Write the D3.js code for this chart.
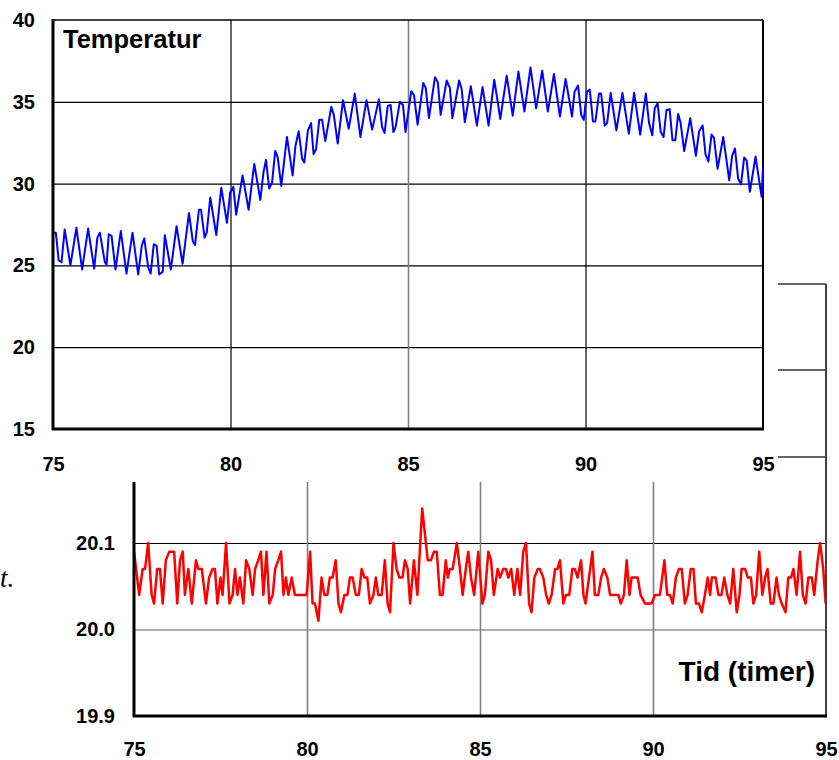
<!DOCTYPE html>
<html>
<head>
<meta charset="utf-8">
<script src="https://cdn.jsdelivr.net/npm/d3@7"></script>
<style>
  body { margin: 0; background: #fff; }
  svg { display: block; }
</style>
</head>
<body>
<svg width="839" height="760"></svg>
<script>
// Temperatur (øverst), aflæst som [tid, grader]
var tempData = [
  [75.00,27.0],[75.08,27.0],[75.16,25.3],[75.24,25.2],[75.33,27.2],[75.49,25.0],[75.66,27.3],[75.82,24.75],
  [75.99,27.25],[76.16,24.8],[76.25,26.7],[76.32,27.0],[76.46,25.2],[76.51,25.05],[76.57,26.9],[76.65,26.8],
  [76.76,24.75],[76.91,27.1],[77.07,24.5],[77.24,27.0],[77.40,24.45],[77.50,26.2],[77.57,26.65],[77.68,24.9],
  [77.75,24.5],[77.84,26.3],[77.92,26.2],[77.99,24.45],[78.09,24.6],[78.15,26.85],[78.32,24.75],[78.48,27.4],
  [78.65,25.1],[78.83,28.2],[78.94,26.45],[79.00,26.25],[79.11,28.4],[79.17,28.4],[79.27,26.7],[79.33,27.0],
  [79.43,29.15],[79.60,26.85],[79.74,29.75],[79.90,27.6],[79.99,29.45],[80.08,29.8],[80.16,28.1],[80.34,30.5],
  [80.51,28.4],[80.67,31.2],[80.84,29.0],[80.93,30.7],[81.00,31.45],[81.09,29.7],[81.17,30.05],[81.26,32.0],
  [81.33,31.6],[81.43,29.85],[81.59,32.85],[81.75,30.5],[81.83,32.3],[81.92,33.2],[82.02,31.5],[82.08,31.3],
  [82.18,33.25],[82.27,33.7],[82.34,31.8],[82.41,32.1],[82.50,33.9],[82.58,33.9],[82.67,32.6],[82.84,34.7],
  [82.91,34.2],[83.02,32.45],[83.17,35.1],[83.33,33.35],[83.50,35.5],[83.66,32.85],[83.83,35.1],[83.99,33.3],
  [84.18,35.15],[84.27,33.45],[84.34,33.1],[84.43,34.75],[84.51,34.8],[84.59,33.15],[84.65,33.45],[84.77,35.0],
  [84.86,34.8],[84.93,33.15],[85.09,35.65],[85.17,35.4],[85.27,33.6],[85.43,36.15],[85.50,35.85],[85.59,34.0],
  [85.76,36.5],[85.84,36.2],[85.92,34.2],[86.09,36.3],[86.18,35.85],[86.25,34.0],[86.44,36.3],[86.51,35.8],
  [86.60,33.75],[86.77,35.95],[86.94,33.55],[87.10,35.9],[87.27,33.55],[87.43,36.35],[87.60,33.95],[87.78,36.6],
  [87.95,34.15],[88.11,36.85],[88.28,34.4],[88.45,37.1],[88.61,34.6],[88.78,36.9],[88.94,34.4],[89.11,36.7],
  [89.28,34.1],[89.44,36.4],[89.62,34.1],[89.69,35.6],[89.79,36.0],[89.88,34.2],[89.95,33.9],[90.04,35.6],
  [90.12,35.75],[90.21,33.8],[90.28,33.8],[90.38,35.5],[90.44,35.5],[90.54,33.55],[90.61,33.7],[90.71,35.55],
  [90.87,33.25],[91.04,35.55],[91.22,33.05],[91.37,35.55],[91.54,33.0],[91.70,35.5],[91.79,33.7],[91.88,32.95],
  [91.95,34.6],[92.03,34.9],[92.12,33.15],[92.20,32.85],[92.28,34.5],[92.37,34.55],[92.45,32.65],[92.53,32.65],
  [92.61,34.25],[92.68,33.7],[92.78,31.99],[92.95,34.0],[93.11,31.7],[93.20,33.2],[93.30,33.55],[93.38,31.8],
  [93.46,31.35],[93.55,33.0],[93.62,32.8],[93.72,30.9],[93.88,32.85],[94.05,30.2],[94.13,31.7],[94.21,32.15],
  [94.30,30.3],[94.38,29.95],[94.47,31.6],[94.54,31.4],[94.63,29.5],[94.79,31.65],[94.96,29.2],[95.00,30.95]
];

// nederste kurve, aflæst som [tid, værdi]
var lowData = [
  [75.00,20.09],[75.15,20.04],[75.25,20.07],[75.32,20.07],[75.41,20.10],[75.51,20.04],[75.58,20.03],[75.67,20.07],
  [75.75,20.07],[75.83,20.03],[75.92,20.08],[76.02,20.09],[76.16,20.09],[76.25,20.03],[76.33,20.08],[76.41,20.09],
  [76.47,20.04],[76.57,20.07],[76.67,20.03],[76.79,20.08],[76.86,20.07],[76.96,20.07],[77.08,20.03],[77.17,20.06],
  [77.27,20.07],[77.34,20.07],[77.41,20.03],[77.50,20.06],[77.56,20.04],[77.66,20.10],[77.76,20.03],[77.85,20.04],
  [77.92,20.07],[77.99,20.04],[78.06,20.06],[78.16,20.03],[78.24,20.08],[78.33,20.07],[78.43,20.04],[78.50,20.07],
  [78.59,20.08],[78.67,20.09],[78.74,20.04],[78.83,20.09],[78.91,20.03],[79.01,20.04],[79.08,20.07],[79.17,20.08],
  [79.25,20.09],[79.32,20.04],[79.39,20.06],[79.46,20.04],[79.56,20.06],[79.65,20.04],[79.99,20.04],[80.09,20.09],
  [80.16,20.03],[80.23,20.03],[80.33,20.01],[80.42,20.06],[80.50,20.04],[80.59,20.04],[80.66,20.06],[80.74,20.06],
  [80.83,20.08],[80.91,20.03],[80.98,20.02],[81.08,20.04],[81.17,20.04],[81.24,20.06],[81.32,20.06],[81.41,20.04],
  [81.50,20.04],[81.58,20.07],[81.66,20.06],[81.74,20.06],[81.82,20.03],[81.92,20.04],[81.99,20.06],[82.06,20.04],
  [82.16,20.04],[82.25,20.08],[82.33,20.03],[82.40,20.02],[82.50,20.10],[82.59,20.07],[82.67,20.06],[82.76,20.06],
  [82.83,20.08],[82.91,20.07],[82.98,20.03],[83.09,20.08],[83.19,20.04],[83.33,20.14],[83.49,20.08],[83.58,20.08],
  [83.67,20.09],[83.75,20.09],[83.84,20.04],[83.92,20.04],[84.01,20.08],[84.07,20.06],[84.13,20.07],[84.21,20.07],
  [84.33,20.10],[84.42,20.07],[84.50,20.04],[84.59,20.07],[84.66,20.09],[84.74,20.06],[84.83,20.04],[84.95,20.09],
  [85.07,20.03],[85.14,20.04],[85.24,20.09],[85.32,20.08],[85.40,20.04],[85.51,20.07],[85.58,20.06],[85.67,20.07],
  [85.75,20.07],[85.82,20.06],[85.90,20.07],[85.99,20.04],[86.08,20.07],[86.16,20.04],[86.25,20.09],[86.33,20.10],
  [86.42,20.03],[86.49,20.02],[86.57,20.06],[86.67,20.07],[86.73,20.07],[86.83,20.06],[86.91,20.04],[86.99,20.03],
  [87.07,20.04],[87.17,20.07],[87.24,20.07],[87.31,20.08],[87.41,20.03],[87.48,20.04],[87.58,20.04],[87.67,20.07],
  [87.74,20.07],[87.82,20.06],[87.92,20.08],[87.99,20.04],[88.05,20.03],[88.15,20.06],[88.25,20.09],[88.32,20.04],
  [88.42,20.04],[88.50,20.06],[88.58,20.07],[88.68,20.06],[88.76,20.04],[89.00,20.04],[89.07,20.03],[89.16,20.04],
  [89.24,20.08],[89.32,20.04],[89.38,20.06],[89.56,20.06],[89.64,20.04],[89.77,20.03],[89.96,20.03],[90.06,20.04],
  [90.20,20.04],[90.33,20.08],[90.41,20.04],[90.49,20.04],[90.57,20.03],[90.66,20.06],[90.75,20.07],[90.83,20.07],
  [90.92,20.03],[91.00,20.04],[91.09,20.07],[91.17,20.07],[91.24,20.03],[91.33,20.03],[91.41,20.02],[91.50,20.04],
  [91.58,20.06],[91.65,20.04],[91.70,20.06],[91.81,20.06],[91.89,20.04],[91.98,20.04],[92.06,20.06],[92.15,20.04],
  [92.23,20.03],[92.32,20.07],[92.42,20.02],[92.50,20.04],[92.56,20.07],[92.66,20.07],[92.74,20.06],[92.83,20.06],
  [92.90,20.03],[92.98,20.04],[93.07,20.09],[93.16,20.04],[93.24,20.06],[93.31,20.07],[93.40,20.03],[93.48,20.03],
  [93.57,20.06],[93.64,20.04],[93.72,20.03],[93.83,20.02],[93.91,20.06],[93.99,20.06],[94.06,20.07],[94.15,20.04],
  [94.25,20.09],[94.33,20.04],[94.41,20.03],[94.49,20.06],[94.59,20.06],[94.66,20.04],[94.76,20.08],[94.83,20.10],
  [94.92,20.07],[94.99,20.03]
];

// akser
var xTicks = [75, 80, 85, 90, 95];
var topYTicks = [15, 20, 25, 30, 35, 40];
var lowYTicks = [19.9, 20.0, 20.1];

var FONT = "'Liberation Sans', Arial, Helvetica, sans-serif";
var svg = d3.select("svg").style("font-family", FONT);

// ---- øverste diagram ----
var x1 = d3.scaleLinear().domain([75, 95]).range([53, 763]);
var y1 = d3.scaleLinear().domain([15, 40]).range([429, 20]);

var g1 = svg.append("g");

// vandrette gitterlinjer
g1.append("g")
  .attr("transform", "translate(53,0)")
  .call(d3.axisLeft(y1).tickValues(topYTicks.slice(1, -1)).tickSize(-(763 - 53)).tickFormat(""))
  .call(g => g.select(".domain").remove())
  .call(g => g.selectAll("line").attr("stroke", "#000").attr("stroke-width", 1.2));

// lodrette gitterlinjer (85 er grå)
g1.append("g")
  .attr("transform", "translate(0,429)")
  .call(d3.axisBottom(x1).tickValues(xTicks.slice(1, -1)).tickSize(-(429 - 20)).tickFormat(""))
  .call(g => g.select(".domain").remove())
  .call(g => g.selectAll("line")
    .attr("stroke", d => d === 85 ? "#808080" : "#000")
    .attr("stroke-width", d => d === 85 ? 1.6 : 1.2));

// ramme
g1.append("line").attr("x1", 53).attr("x2", 763).attr("y1", 20).attr("y2", 20)
  .attr("stroke", "#000").attr("stroke-width", 1.5);
g1.append("line").attr("x1", 763).attr("x2", 763).attr("y1", 20).attr("y2", 430)
  .attr("stroke", "#000").attr("stroke-width", 2);

// kurve
var line1 = d3.line().x(d => x1(d[0])).y(d => y1(d[1]));
g1.append("path")
  .datum(tempData)
  .attr("d", line1)
  .attr("fill", "none")
  .attr("stroke", "#0000ff")
  .attr("stroke-width", 2)
  .attr("stroke-linejoin", "round");

// tykke akser
g1.append("line").attr("x1", 53).attr("x2", 53).attr("y1", 19).attr("y2", 430)
  .attr("stroke", "#000").attr("stroke-width", 3);
g1.append("line").attr("x1", 52).attr("x2", 764).attr("y1", 429).attr("y2", 429)
  .attr("stroke", "#000").attr("stroke-width", 3);

// tal
g1.append("g")
  .attr("transform", "translate(53,0)")
  .call(d3.axisLeft(y1).tickValues(topYTicks).tickSize(0).tickPadding(18).tickFormat(d3.format("d")))
  .call(g => g.select(".domain").remove())
  .call(g => g.selectAll("text").attr("font-family", FONT).attr("font-size", 20).attr("font-weight", "bold").attr("fill", "#000"));
g1.append("g")
  .attr("transform", "translate(0,429)")
  .call(d3.axisBottom(x1).tickValues(xTicks).tickSize(0).tickPadding(28).tickFormat(d3.format("d")))
  .call(g => g.select(".domain").remove())
  .call(g => g.selectAll("text").attr("font-family", FONT).attr("font-size", 20).attr("font-weight", "bold").attr("fill", "#000"));

g1.append("text")
  .attr("x", 63).attr("y", 48)
  .attr("font-size", 25.5).attr("font-weight", "bold")
  .text("Temperatur");

// ---- nederste diagram ----
var x2 = d3.scaleLinear().domain([75, 95]).range([134, 826]);
var y2 = d3.scaleLinear().domain([19.9, 20.1]).range([716, 543]);
var top2 = 482;

var g2 = svg.append("g");

g2.append("g")
  .attr("transform", "translate(134,0)")
  .call(d3.axisLeft(y2).tickValues(lowYTicks.slice(1)).tickSize(-(826 - 134)).tickFormat(""))
  .call(g => g.select(".domain").remove())
  .call(g => g.selectAll("line")
    .attr("stroke", d => d > 20.05 ? "#000" : "#606060")
    .attr("stroke-width", 1.2));

g2.append("g")
  .attr("transform", "translate(0,716)")
  .call(d3.axisBottom(x2).tickValues(xTicks.slice(1, -1)).tickSize(-(716 - top2)).tickFormat(""))
  .call(g => g.select(".domain").remove())
  .call(g => g.selectAll("line").attr("stroke", "#808080").attr("stroke-width", 1.6));

var line2 = d3.line().x(d => x2(d[0])).y(d => y2(d[1]));
g2.append("path")
  .datum(lowData)
  .attr("d", line2)
  .attr("fill", "none")
  .attr("stroke", "#ff0000")
  .attr("stroke-width", 2.5)
  .attr("stroke-linejoin", "round");

// højre kant + klamme
g2.append("line").attr("x1", 826).attr("x2", 826).attr("y1", 284).attr("y2", 717)
  .attr("stroke", "#404040").attr("stroke-width", 2);
[284, 370, 457].forEach(function(yy){
  g2.append("line").attr("x1", 778).attr("x2", 826).attr("y1", yy).attr("y2", yy)
    .attr("stroke", "#333").attr("stroke-width", 1.3);
});

g2.append("line").attr("x1", 134).attr("x2", 134).attr("y1", top2).attr("y2", 717)
  .attr("stroke", "#000").attr("stroke-width", 3);
g2.append("line").attr("x1", 133).attr("x2", 827).attr("y1", 716).attr("y2", 716)
  .attr("stroke", "#000").attr("stroke-width", 3);

g2.append("g")
  .attr("transform", "translate(134,0)")
  .call(d3.axisLeft(y2).tickValues(lowYTicks).tickSize(0).tickPadding(19).tickFormat(d3.format(".1f")))
  .call(g => g.select(".domain").remove())
  .call(g => g.selectAll("text").attr("font-family", FONT).attr("font-size", 20).attr("font-weight", "bold").attr("fill", "#000"));
g2.append("g")
  .attr("transform", "translate(0,716)")
  .call(d3.axisBottom(x2).tickValues(xTicks).tickSize(0).tickPadding(26).tickFormat(d3.format("d")))
  .call(g => g.select(".domain").remove())
  .call(g => g.selectAll("text").attr("font-family", FONT).attr("font-size", 20).attr("font-weight", "bold").attr("fill", "#000"));

g2.append("text")
  .attr("x", 815).attr("y", 681)
  .attr("text-anchor", "end")
  .attr("font-size", 28).attr("font-weight", "bold")
  .text("Tid (timer)");

// tekst i venstre kant
svg.append("text")
  .attr("x", 0).attr("y", 587)
  .attr("font-family", "'Liberation Serif', 'DejaVu Serif', serif")
  .attr("font-style", "italic")
  .attr("font-size", 27)
  .text("t.");
</script>
</body>
</html>
